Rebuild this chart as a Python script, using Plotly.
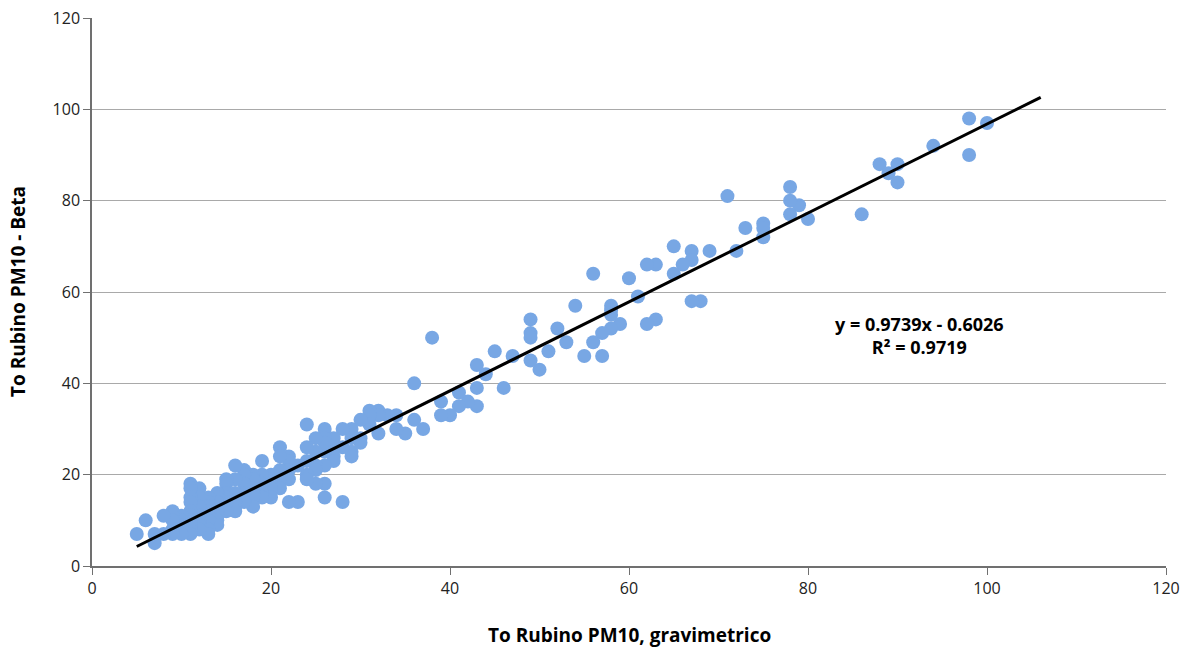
import plotly.graph_objects as go

# Gravimetric (x) vs Beta (y) PM10 values
grav = [100, 98, 98, 94, 90, 88, 89, 90, 86, 80, 79, 78, 78, 78, 75, 75, 75, 73, 72, 71,
        69, 67, 67, 66, 65, 65, 68, 67, 63, 62, 63, 62, 61, 60, 59,
        58, 58, 58, 58, 57, 57, 56, 56, 55, 54, 53, 52, 51, 50,
        49, 49, 49, 49, 47, 46, 45, 44, 43, 43, 43, 42, 41, 41, 40,
        39, 39, 38, 37, 36, 36, 35, 34, 34, 33, 32, 32, 32, 31, 31, 31,
        30, 30, 30, 29, 29, 29, 29, 28, 28, 28, 27, 27, 27, 27,
        26, 26, 26, 26, 26, 26, 26, 25, 25, 25, 25, 25,
        24, 24, 24, 24, 24, 23, 23, 22, 22, 22, 22, 22,
        21, 21, 21, 21, 21, 20, 20, 20, 20, 19, 19, 19, 19, 19,
        18, 18, 18, 18, 18, 18, 17, 17, 17, 17, 17,
        16, 16, 16, 16, 16, 16, 15, 15, 15, 15, 15, 15,
        14, 14, 14, 14, 14, 14, 14, 13, 13, 13, 13, 13, 13, 13, 13,
        12, 12, 12, 12, 12, 12, 12, 11, 11, 11, 11, 11, 11, 11, 11, 11, 11,
        10, 10, 10, 10, 9, 9, 9, 9, 9, 8, 8, 7, 7, 6, 5]
beta = [97, 98, 90, 92, 88, 88, 86, 84, 77, 76, 79, 83, 80, 77, 75, 74, 72, 74, 69, 81,
        69, 69, 67, 66, 70, 64, 58, 58, 66, 66, 54, 53, 59, 63, 53,
        57, 56, 55, 52, 51, 46, 64, 49, 46, 57, 49, 52, 47, 43,
        54, 51, 50, 45, 46, 39, 47, 42, 44, 39, 35, 36, 38, 35, 33,
        36, 33, 50, 30, 40, 32, 29, 33, 30, 33, 34, 33, 29, 34, 33, 31,
        32, 28, 27, 30, 28, 25, 24, 30, 26, 14, 28, 26, 24, 23,
        30, 28, 27, 25, 22, 18, 15, 28, 25, 22, 21, 18,
        31, 26, 23, 20, 19, 22, 14, 24, 23, 21, 19, 14,
        26, 24, 21, 19, 17, 20, 19, 17, 15, 23, 20, 18, 16, 15,
        20, 19, 17, 16, 15, 13, 21, 20, 18, 16, 14,
        22, 19, 16, 14, 13, 12, 19, 18, 16, 15, 14, 12,
        16, 15, 14, 12, 11, 10, 9, 15, 14, 13, 12, 11, 10, 8, 7,
        17, 15, 13, 11, 10, 9, 8, 18, 17, 15, 14, 12, 11, 10, 9, 8, 7,
        11, 10, 9, 7, 12, 11, 10, 8, 7, 11, 7, 7, 5, 10, 7]

trend_x = [5, 106]
slope = 0.9739
intercept = -0.6026
r2 = 0.9719
tick_vals = [0, 20, 40, 60, 80, 100, 120]

trend_y = [slope * x + intercept for x in trend_x]

font_family = "Open Sans, DejaVu Sans, sans-serif"

fig = go.Figure()
fig.add_trace(go.Scatter(
    x=grav, y=beta, mode="markers",
    marker=dict(size=14, color="#78A7E4", line=dict(width=0)),
    showlegend=False, hoverinfo="x+y"))
fig.add_trace(go.Scatter(
    x=trend_x, y=trend_y, mode="lines",
    line=dict(color="black", width=3),
    showlegend=False, hoverinfo="skip"))

fig.add_annotation(
    x=92.5, y=50.5, xref="x", yref="y",
    text=f"<b>y = {slope}x - {abs(intercept)}</b><br><b>R² = {r2}</b>",
    showarrow=False, align="center",
    font=dict(family=font_family, size=18, color="black"))

# Axis titles placed in paper/pixel space as annotations
fig.add_annotation(
    x=0.5, y=0, xref="paper", yref="paper", yshift=-69, yanchor="middle",
    text="<b>To Rubino PM10, gravimetrico</b>", showarrow=False,
    font=dict(family=font_family, size=19, color="black"))
fig.add_annotation(
    x=0, y=0.5, xref="paper", yref="paper", xshift=-74, xanchor="center",
    text="<b>To Rubino PM10 - Beta</b>", showarrow=False, textangle=-90,
    font=dict(family=font_family, size=19, color="black"))

fig.update_layout(
    width=1185, height=650,
    margin=dict(l=92, r=19, t=18, b=84, autoexpand=False),
    plot_bgcolor="white", paper_bgcolor="white",
    font=dict(family=font_family, size=16, color="#222"),
    xaxis=dict(range=[0, 120], tickvals=tick_vals, showgrid=False, zeroline=False,
               automargin=False,
               showline=True, linecolor="#707070", linewidth=1.5,
               ticks="outside", ticklen=7, tickcolor="#707070",
               tickfont=dict(size=16, color="#222")),
    yaxis=dict(range=[0, 120], tickvals=tick_vals, showgrid=True, gridcolor="#A9A9A9",
               gridwidth=1.2, zeroline=False, automargin=False,
               showline=True, linecolor="#707070", linewidth=1.5,
               ticks="outside", ticklen=7, tickcolor="#707070",
               tickfont=dict(size=16, color="#222")),
)

fig.write_html("out.html")
